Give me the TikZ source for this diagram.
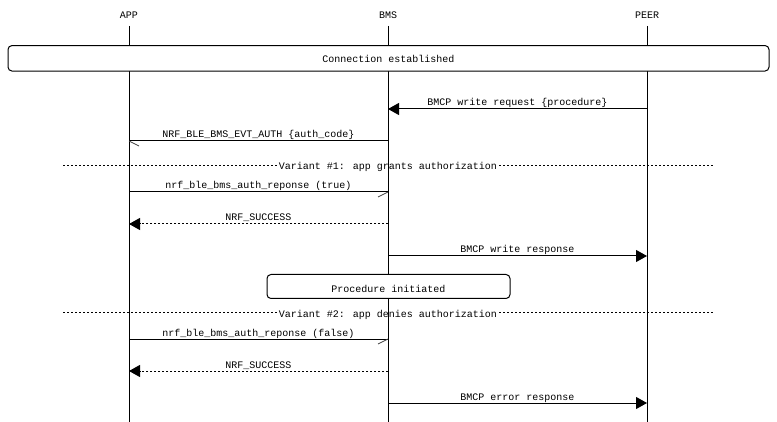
\documentclass[tikz,border=0pt]{standalone}
\usepackage{fontspec}
\newfontfamily\mscfont{Liberation Mono}
\usetikzlibrary{arrows.meta}
\begin{document}
\begin{tikzpicture}[x=1pt,y=-1pt,
  txt/.style={font=\mscfont\fontsize{10}{12}\selectfont, inner sep=0pt},
  lifeline/.style={line width=1pt},
  msgline/.style={line width=1pt},
  barb/.style={line width=0.7pt, draw=black!75},
  solidtip/.style={-{Triangle[length=11pt,width=12pt]}},
  dots/.style={dash pattern=on 2pt off 2pt},
  boxstyle/.style={draw, line width=1pt, fill=white, rounded corners=4pt, inner sep=0pt},
  vartxt/.style={txt, fill=white, inner xsep=2pt, inner ysep=1pt, anchor=base},
  lbl/.style={txt, anchor=base},
]
\useasboundingbox (0,0) rectangle (777,422);
\fill[white] (0,0) rectangle (777,422);

% entity heads
\node[lbl] (app) at (129,18.5) {APP};
\node[lbl] (bms) at (388,18.5) {BMS};
\node[lbl] (peer) at (647,18.5) {PEER};

% variant separators
\coordinate (v1l) at (63,166);
\coordinate (v1r) at (714,166);
\draw[msgline,dots] (v1l) -- (v1r);
\node[vartxt] (v1) at (388,170) {Variant \#1: app grants authorization};
\coordinate (v2l) at (63,313);
\coordinate (v2r) at (714,313);
\draw[msgline,dots] (v2l) -- (v2r);
\node[vartxt] (v2) at (388,317) {Variant \#2: app denies authorization};

% lifelines
\coordinate (appT) at (129,26);  \coordinate (appB) at (129,422);
\coordinate (bmsT) at (388,26);  \coordinate (bmsB) at (388,422);
\coordinate (peerT) at (647,26); \coordinate (peerB) at (647,422);
\draw[lifeline] (appT) -- (appB);
\draw[lifeline] (bmsT) -- (bmsB);
\draw[lifeline] (peerT) -- (peerB);

% boxes
\node[boxstyle, minimum width=761pt, minimum height=25.5pt] (conn) at (388.5,58.3) {};
\node[lbl] (connt) at (388.5,63) {Connection established};
\node[boxstyle, minimum width=243pt, minimum height=24pt] (proc) at (388.5,286.5) {};
\node[lbl] (proct) at (388.5,293) {Procedure initiated};

% message 1
\coordinate (m1s) at (647,109); \coordinate (m1e) at (388,109);
\draw[msgline,solidtip] (m1s) -- (m1e);
\node[lbl] (l1) at (517.5,106) {BMCP write request \{procedure\}};

% message 2
\coordinate (m2s) at (388,141); \coordinate (m2e) at (129,141);
\draw[msgline] (m2s) -- (m2e);
\draw[barb] (m2e) -- ++(10,5);
\node[lbl] (l2) at (258.5,138) {NRF\_BLE\_BMS\_EVT\_AUTH \{auth\_code\}};

% message 3
\coordinate (m3s) at (129,192); \coordinate (m3e) at (388,192);
\draw[msgline] (m3s) -- (m3e);
\draw[barb] (m3e) -- ++(-10,5);
\node[lbl] (l3) at (258.5,189) {nrf\_ble\_bms\_auth\_reponse (true)};

% message 4
\coordinate (m4s) at (388,224); \coordinate (m4e) at (129,224);
\draw[msgline,dots,solidtip] (m4s) -- (m4e);
\node[lbl] (l4) at (258.5,221) {NRF\_SUCCESS};

% message 5
\coordinate (m5s) at (388,256); \coordinate (m5e) at (647,256);
\draw[msgline,solidtip] (m5s) -- (m5e);
\node[lbl] (l5) at (517.5,253) {BMCP write response};

% message 6
\coordinate (m6s) at (129,339); \coordinate (m6e) at (388,339);
\draw[msgline] (m6s) -- (m6e);
\draw[barb] (m6e) -- ++(-10,5);
\node[lbl] (l6) at (258.5,336) {nrf\_ble\_bms\_auth\_reponse (false)};

% message 7
\coordinate (m7s) at (388,371); \coordinate (m7e) at (129,371);
\draw[msgline,dots,solidtip] (m7s) -- (m7e);
\node[lbl] (l7) at (258.5,368) {NRF\_SUCCESS};

% message 8
\coordinate (m8s) at (388,403); \coordinate (m8e) at (647,403);
\draw[msgline,solidtip] (m8s) -- (m8e);
\node[lbl] (l8) at (517.5,400) {BMCP error response};
\end{tikzpicture}
\end{document}
